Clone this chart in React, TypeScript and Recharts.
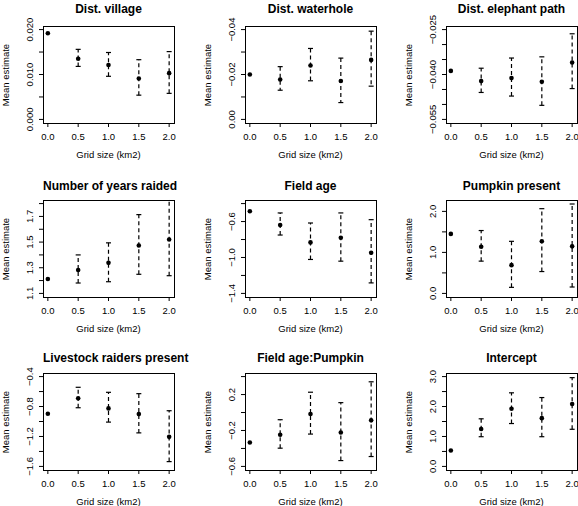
import React from 'react'
import { ScatterChart, Scatter, XAxis, YAxis, ErrorBar } from 'recharts'

const FONT = '"Liberation Sans", Arial, Helvetica, sans-serif'

const gridSizes = [0, 0.5, 1, 1.5, 2]
const gridTicks = [0, 0.5, 1, 1.5, 2]

// Dist. village
const villageMean = [0.0192, 0.0135, 0.0121, 0.0091, 0.0103]
const villageLower = [null, 0.0118, 0.0096, 0.0054, 0.0058]
const villageUpper = [null, 0.0156, 0.0149, 0.0133, 0.0151]
const villageTicks = [0, 0.005, 0.01, 0.015, 0.02]
const villageLabels = [0, 0.01, 0.02]

// Dist. waterhole (axis drawn reversed)
const waterMean = [-0.02, -0.0178, -0.024, -0.0171, -0.0265]
const waterLower = [null, -0.0235, -0.0316, -0.0273, -0.0393]
const waterUpper = [null, -0.013, -0.0172, -0.0075, -0.0148]
const waterTicks = [-0.04, -0.03, -0.02, -0.01, 0]
const waterLabels = [-0.04, -0.02, 0]

// Dist. elephant path
const elephantMean = [-0.0388, -0.0422, -0.0412, -0.0424, -0.036]
const elephantLower = [null, -0.046, -0.0472, -0.0503, -0.0447]
const elephantUpper = [null, -0.0379, -0.0345, -0.0341, -0.0264]
const elephantTicks = [-0.055, -0.05, -0.045, -0.04, -0.035, -0.03, -0.025]
const elephantLabels = [-0.055, -0.04, -0.025]

// Number of years raided
const raidedMean = [1.212, 1.283, 1.338, 1.473, 1.52]
const raidedLower = [null, 1.181, 1.191, 1.249, 1.238]
const raidedUpper = [null, 1.4, 1.494, 1.714, 1.826]
const raidedTicks = [1.1, 1.2, 1.3, 1.4, 1.5, 1.6, 1.7, 1.8]
const raidedLabels = [1.1, 1.3, 1.5, 1.7]

// Field age
const fieldMean = [-0.486, -0.638, -0.832, -0.78, -0.947]
const fieldLower = [null, -0.75, -1.022, -1.041, -1.283]
const fieldUpper = [null, -0.504, -0.616, -0.504, -0.579]
const fieldTicks = [-1.4, -1.2, -1.0, -0.8, -0.6, -0.4]
const fieldLabels = [-1.4, -1.0, -0.6]

// Pumpkin present
const pumpkinMean = [1.451, 1.139, 0.689, 1.27, 1.148]
const pumpkinLower = [null, 0.787, 0.148, 0.533, 0.156]
const pumpkinUpper = [null, 1.533, 1.27, 2.066, 2.18]
const pumpkinTicks = [0, 0.5, 1, 1.5, 2]
const pumpkinLabels = [0, 1, 2]

// Livestock raiders present
const livestockMean = [-0.897, -0.691, -0.825, -0.901, -1.205]
const livestockLower = [null, -0.816, -1.008, -1.152, -1.536]
const livestockUpper = [null, -0.543, -0.61, -0.628, -0.856]
const livestockTicks = [-1.6, -1.4, -1.2, -1.0, -0.8, -0.6, -0.4]
const livestockLabels = [-1.6, -1.2, -0.8, -0.4]

// Field age:Pumpkin
const interMean = [-0.334, -0.248, -0.016, -0.222, -0.087]
const interLower = [null, -0.397, -0.24, -0.535, -0.49]
const interUpper = [null, -0.08, 0.226, 0.11, 0.342]
const interTicks = [-0.6, -0.4, -0.2, 0, 0.2, 0.4]
const interLabels = [-0.6, -0.2, 0.2]

// Intercept
const interceptMean = [0.53, 1.251, 1.928, 1.612, 2.086]
const interceptLower = [null, 0.992, 1.432, 0.992, 1.24]
const interceptUpper = [null, 1.59, 2.458, 2.3, 2.965]
const interceptTicks = [0, 0.5, 1, 1.5, 2, 2.5, 3]
const interceptLabels = [0, 1, 2, 3]

type PanelSpec = {
  title: string
  mean: number[]
  lower: (number | null)[]
  upper: (number | null)[]
  ylim: [number, number]
  ticks: number[]
  labels: number[]
  digits: number
  reversed?: boolean
}

const panels: PanelSpec[] = [
  { title: 'Dist. village', mean: villageMean, lower: villageLower, upper: villageUpper, ylim: [0, 0.02], ticks: villageTicks, labels: villageLabels, digits: 3 },
  { title: 'Dist. waterhole', mean: waterMean, lower: waterLower, upper: waterUpper, ylim: [-0.04, 0], ticks: waterTicks, labels: waterLabels, digits: 2, reversed: true },
  { title: 'Dist. elephant path', mean: elephantMean, lower: elephantLower, upper: elephantUpper, ylim: [-0.055, -0.025], ticks: elephantTicks, labels: elephantLabels, digits: 3 },
  { title: 'Number of years raided', mean: raidedMean, lower: raidedLower, upper: raidedUpper, ylim: [1.1, 1.8], ticks: raidedTicks, labels: raidedLabels, digits: 1 },
  { title: 'Field age', mean: fieldMean, lower: fieldLower, upper: fieldUpper, ylim: [-1.4, -0.4], ticks: fieldTicks, labels: fieldLabels, digits: 1 },
  { title: 'Pumpkin present', mean: pumpkinMean, lower: pumpkinLower, upper: pumpkinUpper, ylim: [0, 2.19], ticks: pumpkinTicks, labels: pumpkinLabels, digits: 1 },
  { title: 'Livestock raiders present', mean: livestockMean, lower: livestockLower, upper: livestockUpper, ylim: [-1.6, -0.4], ticks: livestockTicks, labels: livestockLabels, digits: 1 },
  { title: 'Field age:Pumpkin', mean: interMean, lower: interLower, upper: interUpper, ylim: [-0.6, 0.4], ticks: interTicks, labels: interLabels, digits: 1 },
  { title: 'Intercept', mean: interceptMean, lower: interceptLower, upper: interceptUpper, ylim: [0, 3], ticks: interceptTicks, labels: interceptLabels, digits: 1 },
]

// layout of the 3x3 grid (plot box corners)
const colLeft = [43, 245, 446]
const rowTop = [26, 200, 373]
const titleCenter = [8.5, 186, 358]

const PLOT_W = 131
const PLOT_H = 97
const M_LEFT = 55
const M_TOP = 38
const M_RIGHT = 15
const M_BOTTOM = 39
const CHART_W = M_LEFT + PLOT_W + M_RIGHT
const CHART_H = M_TOP + PLOT_H + M_BOTTOM

// R-style 4% axis padding
function pad([lo, hi]: [number, number]): [number, number] {
  const r = hi - lo
  return [lo - 0.04 * r, hi + 0.04 * r]
}

function fmt(v: number, digits: number) {
  return v.toFixed(digits).replace('-', '\u2212')
}

function Panel({ spec, left, top, titleY }: { spec: PanelSpec; left: number; top: number; titleY: number }) {
  const xDomain = pad([0, 2])
  const yDomain = pad(spec.ylim)

  const points = gridSizes.map((x, i) => ({ x, y: spec.mean[i] }))
  const ci = gridSizes
    .map((x, i) => ({ x, y: spec.mean[i], lo: spec.lower[i], hi: spec.upper[i] }))
    .filter((d) => d.lo != null && d.hi != null) as { x: number; y: number; lo: number; hi: number }[]
  const bars = ci.map((d) => ({ x: d.x, y: d.y, err: [d.y - d.lo, d.hi - d.y] }))
  const capsLo = ci.map((d) => ({ x: d.x, y: d.lo }))
  const capsHi = ci.map((d) => ({ x: d.x, y: d.hi }))

  const renderYTick = (props: any) => {
    const { x, y, payload } = props
    const v = payload.value as number
    if (!spec.labels.some((l) => Math.abs(l - v) < 1e-9)) return <g />
    return (
      <text x={x} y={y} transform={`rotate(-90 ${x} ${y})`} textAnchor="middle" fontSize={9.5} fontFamily={FONT} fill="#000">
        {fmt(v, spec.digits)}
      </text>
    )
  }

  const cap = (props: any) => (
    <line x1={props.cx - 2.5} x2={props.cx + 2.5} y1={props.cy} y2={props.cy} stroke="#000" strokeWidth={1.2} />
  )
  const dot = (props: any) => <circle cx={props.cx} cy={props.cy} r={2.3} fill="#000" />

  return (
    <>
      <div style={{ position: 'absolute', left: left - M_LEFT, top: top - M_TOP }}>
        <ScatterChart width={CHART_W} height={CHART_H} margin={{ top: M_TOP, right: M_RIGHT, bottom: 0, left: 0 }}>
          <XAxis
            type="number"
            dataKey="x"
            domain={xDomain}
            ticks={gridTicks}
            interval={0}
            allowDataOverflow
            height={M_BOTTOM}
            axisLine={false}
            tickLine={{ stroke: '#000' }}
            tickSize={4}
            tickMargin={6}
            tick={{ fill: '#000', fontSize: 9.5, fontFamily: FONT }}
            tickFormatter={(v: number) => v.toFixed(1)}
          />
          <YAxis
            type="number"
            dataKey="y"
            domain={yDomain}
            ticks={spec.ticks}
            interval={0}
            allowDataOverflow
            width={M_LEFT}
            reversed={spec.reversed}
            axisLine={false}
            tickLine={{ stroke: '#000' }}
            tickSize={4}
            tickMargin={6}
            tick={renderYTick}
          />
          <Scatter data={bars} isAnimationActive={false} shape={() => <g />}>
            <ErrorBar
              dataKey="err"
              direction="y"
              width={0}
              stroke="#000"
              strokeWidth={1.2}
              strokeDasharray="4 3"
              isAnimationActive={false}
            />
          </Scatter>
          <Scatter data={capsLo} isAnimationActive={false} shape={cap} />
          <Scatter data={capsHi} isAnimationActive={false} shape={cap} />
          <Scatter data={points} isAnimationActive={false} shape={dot} />
        </ScatterChart>
      </div>
      {/* plot frame (R box()) */}
      <div
        style={{
          position: 'absolute',
          left: left - 0.5,
          top: top - 0.5,
          width: PLOT_W + 1,
          height: PLOT_H + 1,
          border: '1px solid #000',
          boxSizing: 'border-box',
          pointerEvents: 'none',
        }}
      />
      <div
        style={{
          position: 'absolute',
          left,
          width: PLOT_W,
          top: titleY - 7,
          textAlign: 'center',
          fontSize: 12,
          lineHeight: '14px',
          fontWeight: 'bold',
          whiteSpace: 'nowrap',
        }}
      >
        {spec.title}
      </div>
      <div
        style={{
          position: 'absolute',
          left,
          width: PLOT_W,
          top: top + PLOT_H + 31 - 5.4,
          textAlign: 'center',
          fontSize: 9.5,
          lineHeight: '11px',
          whiteSpace: 'nowrap',
        }}
      >
        Grid size (km2)
      </div>
      <div
        style={{
          position: 'absolute',
          left: left - 38,
          top: top + PLOT_H / 2,
          transform: 'translate(-50%, -50%) rotate(-90deg)',
          fontSize: 9.5,
          lineHeight: '11px',
          whiteSpace: 'nowrap',
        }}
      >
        Mean estimate
      </div>
    </>
  )
}

export default function App() {
  return (
    <div
      style={{
        position: 'absolute',
        left: 0,
        top: 0,
        width: 578,
        height: 506,
        overflow: 'hidden',
        background: '#fff',
        fontFamily: FONT,
        color: '#000',
      }}
    >
      {panels.map((spec, i) => (
        <Panel
          key={spec.title}
          spec={spec}
          left={colLeft[i % 3]}
          top={rowTop[Math.floor(i / 3)]}
          titleY={titleCenter[Math.floor(i / 3)]}
        />
      ))}
    </div>
  )
}
